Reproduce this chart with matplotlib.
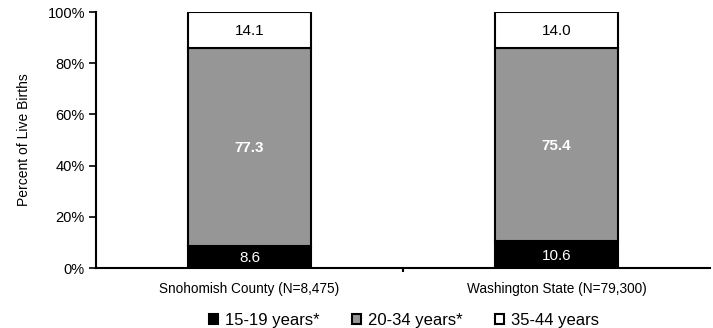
import matplotlib.pyplot as plt
import numpy as np
from matplotlib.patches import Patch

plt.rcParams["font.family"] = ["Liberation Sans", "DejaVu Sans"]

groups = ["Snohomish County (N=8,475)", "Washington State (N=79,300)"]
age_labels = ["15-19 years*", "20-34 years*", "35-44 years"]
teen = [8.6, 10.6]
young = [77.3, 75.4]
older = [14.1, 14.0]

colors = ["#000000", "#969696", "#ffffff"]
text_colors = ["white", "white", "black"]
text_weights = ["normal", "bold", "normal"]

fig = plt.figure(figsize=(7.13, 3.28), dpi=100)
ax = fig.add_axes([96 / 713, 60 / 328, 614 / 713, 256 / 328])

x = np.arange(len(groups))
bottom = np.zeros(len(groups))
for vals, col, tc, tw in zip([teen, young, older], colors, text_colors, text_weights):
    vals = np.array(vals)
    ax.bar(x, vals, 0.4, bottom=bottom, color=col, edgecolor="black", linewidth=1.5)
    for xi, b, v in zip(x, bottom, vals):
        ax.text(xi, b + v / 2 - 0.5, f"{v:.1f}", ha="center", va="center",
                color=tc, fontsize=11, fontweight=tw)
    bottom += vals

ax.set_xlim(-0.5, 1.5)
ax.set_ylim(0, 100)
ax.set_yticks(np.arange(0, 101, 20))
ax.set_yticklabels([f"{v}%" for v in range(0, 101, 20)], fontsize=10.5)
ax.set_xticks(x)
ax.set_xticklabels(groups, fontsize=9.8)
ax.tick_params(axis="x", length=0, pad=10)
ax.set_xticks([0.5], minor=True)
ax.tick_params(axis="x", which="minor", length=3, width=1.5, direction="out")
ax.tick_params(axis="y", length=5, width=1.2, direction="out", pad=3)
ax.set_ylabel("Percent of Live Births", fontsize=10, labelpad=12)
for s in ["top", "right"]:
    ax.spines[s].set_visible(False)
for s in ["left", "bottom"]:
    ax.spines[s].set_linewidth(1.5)

handles = [Patch(facecolor=c, edgecolor="black", linewidth=1.5) for c in colors]
fig.legend(handles, age_labels, loc="lower center", bbox_to_anchor=(404 / 713, -0.045),
           ncol=3, frameon=False, fontsize=12, handlelength=0.55, handleheight=0.55,
           handletextpad=0.45, columnspacing=1.9)

fig.savefig("out.png", dpi=100)
